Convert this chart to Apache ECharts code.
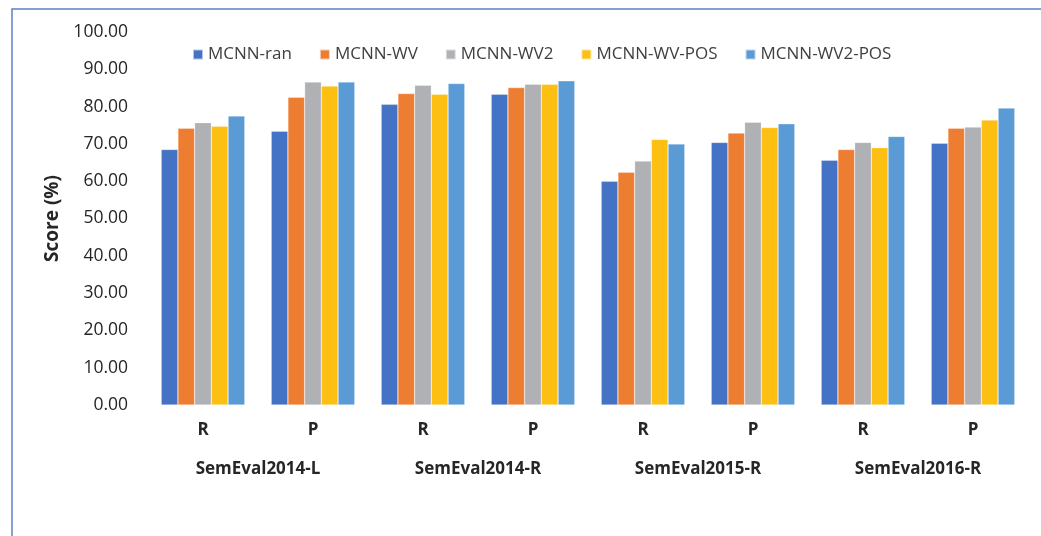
<!DOCTYPE html>
<html><head><meta charset="utf-8">
<script src="https://cdn.jsdelivr.net/npm/echarts@6/dist/echarts.min.js"></script>
<style>html,body{margin:0;padding:0;background:#fff}#c{width:1041px;height:536px}</style>
</head><body><div id="c"></div>
<script>
const categories = ['R','P','R','P','R','P','R','P'];
const datasets = ['SemEval2014-L','SemEval2014-R','SemEval2015-R','SemEval2016-R'];
const seriesNames = ['MCNN-ran','MCNN-WV','MCNN-WV2','MCNN-WV-POS','MCNN-WV2-POS'];
const mcnnRan    = [68.5, 73.4, 80.6, 83.3, 60.0, 70.4, 65.6, 70.2];
const mcnnWV     = [74.2, 82.5, 83.5, 85.1, 62.4, 72.9, 68.5, 74.2];
const mcnnWV2    = [75.7, 86.6, 85.7, 86.0, 65.4, 75.8, 70.4, 74.5];
const mcnnWVPOS  = [74.7, 85.5, 83.3, 86.0, 71.2, 74.4, 69.0, 76.4];
const mcnnWV2POS = [77.5, 86.6, 86.2, 86.9, 70.0, 75.4, 72.0, 79.6];
const yTicks = [0,10,20,30,40,50,60,70,80,90,100];
const colors = ['#4472C4','#ED7D31','#B0B1B5','#FCBF12','#5B9BD5'];
const values = [mcnnRan, mcnnWV, mcnnWV2, mcnnWVPOS, mcnnWV2POS];
const font = 'Open Sans';
const chart = echarts.init(document.getElementById('c'));
chart.setOption({
  animation:false,
  color: colors,
  graphic:[{type:'rect',shape:{x:12,y:9,width:1100,height:600},style:{fill:'none',stroke:'#5B80C6',lineWidth:1.5}}],
  legend:{top:41,left:187,itemWidth:10,itemHeight:10,itemGap:27,icon:'rect',
    textStyle:{fontFamily:font,fontSize:17,color:'#404040'},data:seriesNames},
  grid:{left:148,right:13,top:32,bottom:131},
  xAxis:[{type:'category',data:categories,axisLine:{show:false},axisTick:{show:false},
      axisLabel:{margin:17,fontFamily:font,fontWeight:'bold',fontSize:17,color:'#262626'}},
    {type:'category',data:datasets,position:'bottom',axisLine:{show:false},axisTick:{show:false},
      axisLabel:{margin:56,fontFamily:font,fontWeight:'bold',fontSize:17,color:'#262626'}}],
  yAxis:{type:'value',min:yTicks[0],max:yTicks[yTicks.length-1],interval:10,
    name:'Score (%)',nameLocation:'middle',nameGap:84,
    nameTextStyle:{fontFamily:font,fontWeight:'bold',fontSize:19,color:'#262626'},
    splitLine:{show:false},axisLine:{show:false},axisTick:{show:false},
    axisLabel:{margin:20,fontFamily:font,fontSize:17.5,color:'#262626',formatter:v=>v.toFixed(2)}},
  series: seriesNames.map((n,i)=>({name:n,type:'bar',xAxisIndex:0,data:values[i],
    barGap:'0%',barCategoryGap:'24%',itemStyle:{borderColor:'rgba(255,255,255,0.6)',borderWidth:0.5}}))
});
</script></body></html>
